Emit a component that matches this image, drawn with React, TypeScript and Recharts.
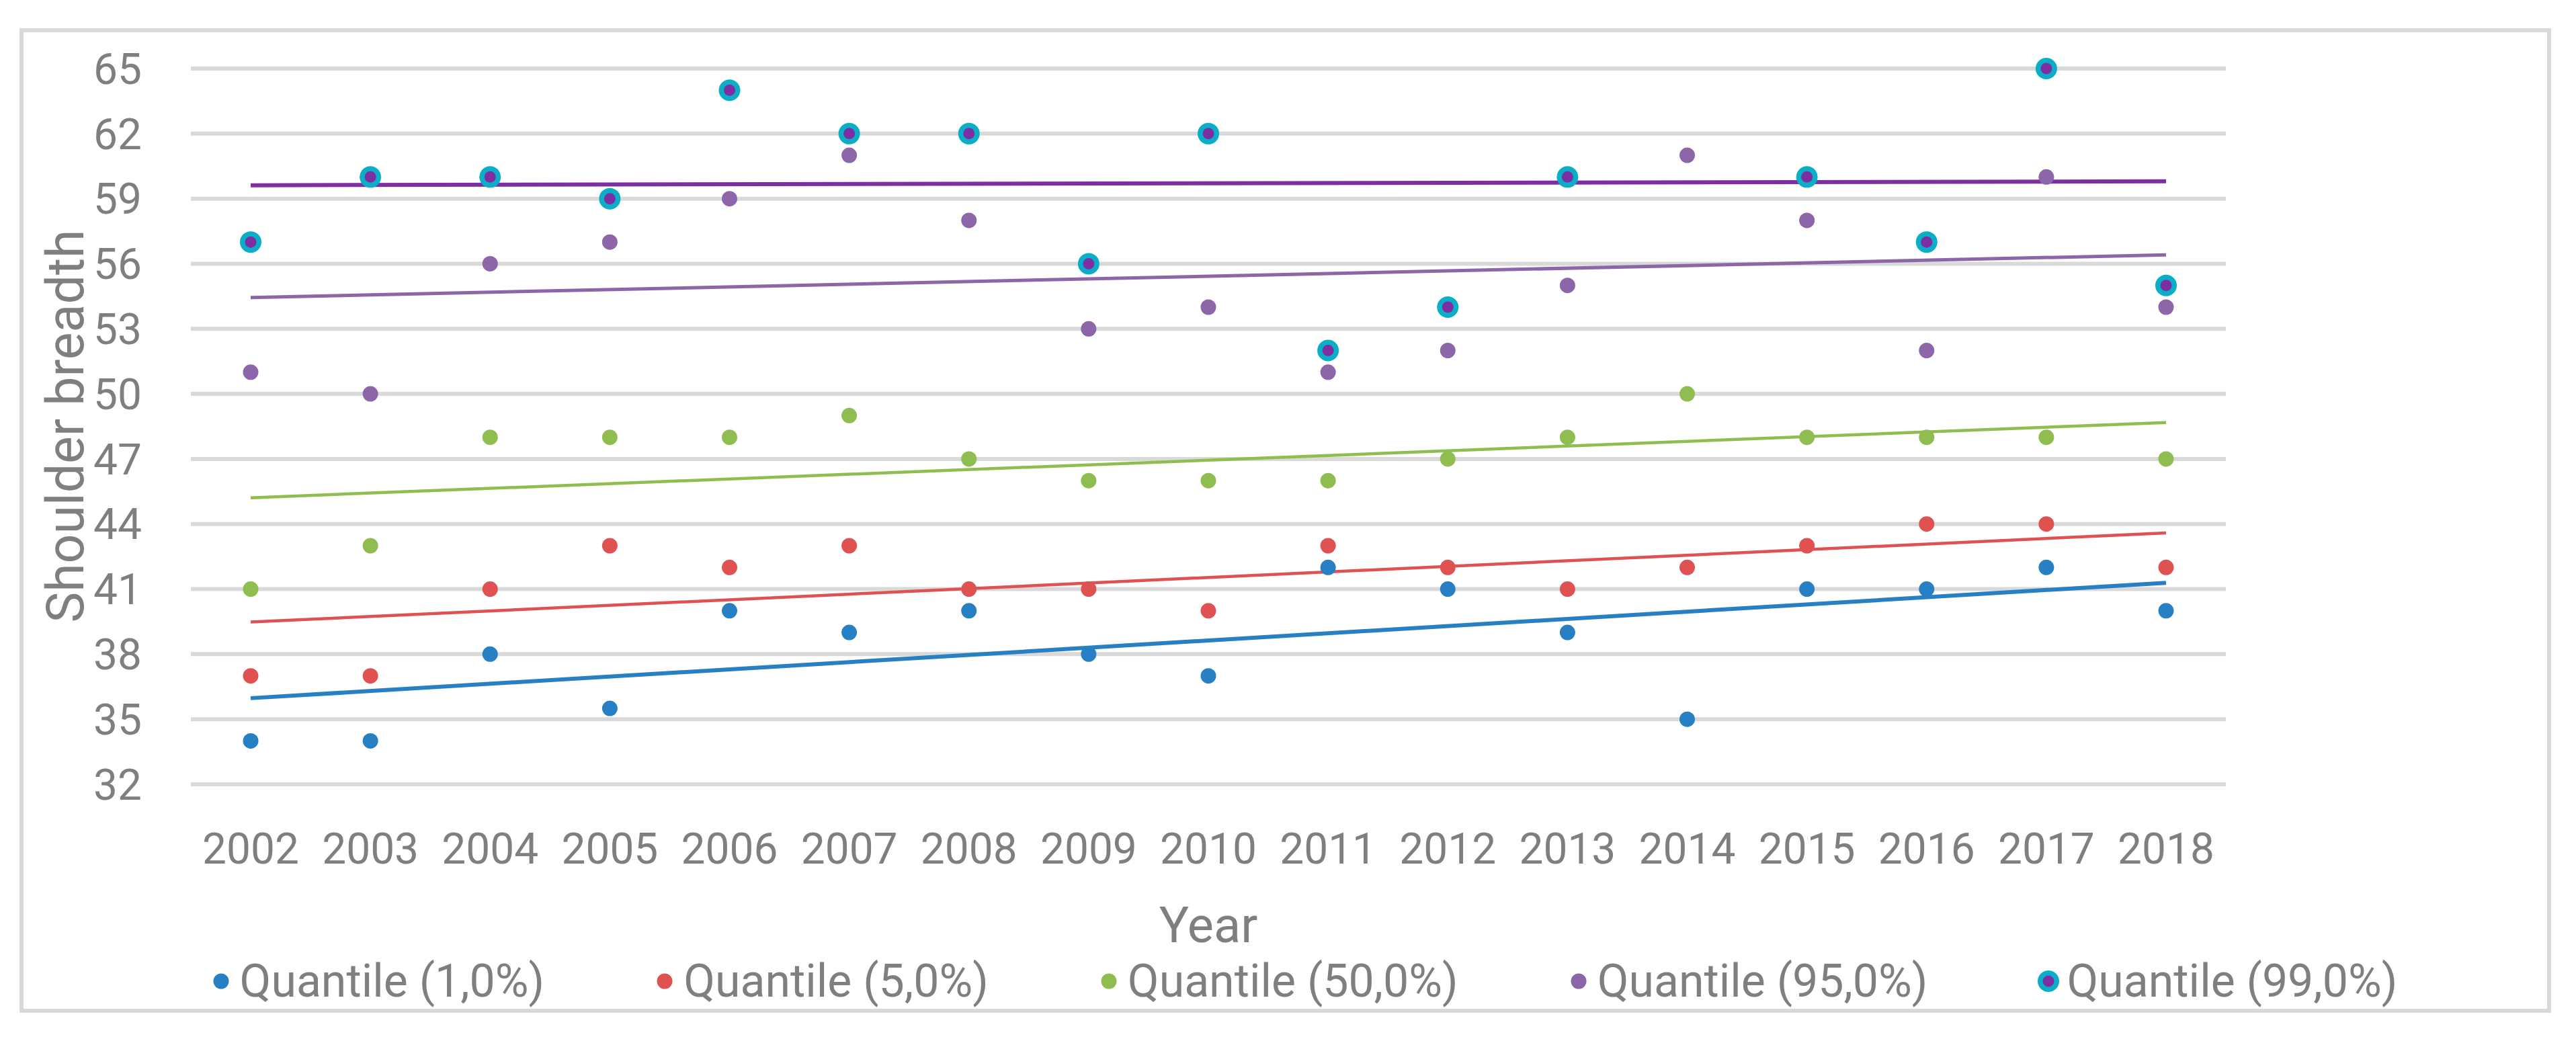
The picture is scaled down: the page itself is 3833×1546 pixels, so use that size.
import React from "react";
import {
  ComposedChart,
  Scatter,
  Line,
  XAxis,
  YAxis,
  CartesianGrid,
  Legend,
} from "recharts";

// ── Data ─────────────────────────────────────────────────────────────────────

const years = [
  "2002", "2003", "2004", "2005", "2006", "2007", "2008", "2009", "2010",
  "2011", "2012", "2013", "2014", "2015", "2016", "2017", "2018",
];

const q1 = [34, 34, 38, 35.5, 40, 39, 40, 38, 37, 42, 41, 39, 35, 41, 41, 42, 40];
const q5 = [37, 37, 41, 43, 42, 43, 41, 41, 40, 43, 42, 41, 42, 43, 44, 44, 42];
const q50 = [41, 43, 48, 48, 48, 49, 47, 46, 46, 46, 47, 48, 50, 48, 48, 48, 47];
const q95 = [51, 50, 56, 57, 59, 61, 58, 53, 54, 51, 52, 55, 61, 58, 52, 60, 54];
const q99 = [57, 60, 60, 59, 64, 62, 62, 56, 62, 52, 54, 60, null, 60, 57, 65, 55];

// linear trend lines: value at first and last year
const trend1 = [35.97, 41.29];
const trend5 = [39.48, 43.59];
const trend50 = [45.21, 48.68];
const trend95 = [54.44, 56.41];
const trend99 = [59.62, 59.8];

const yTicks = [32, 35, 38, 41, 44, 47, 50, 53, 56, 59, 62, 65];

const legendLabels = [
  "Quantile (1,0%)",
  "Quantile (5,0%)",
  "Quantile (50,0%)",
  "Quantile (95,0%)",
  "Quantile (99,0%)",
];

// ── Styling ──────────────────────────────────────────────────────────────────

const FONT = "Roboto, 'Noto Sans', sans-serif";
const TEXT = "#7f7f7f";
const GRID = "#d9d9d9";

const BLUE = "#2680c3";
const RED = "#e05252";
const GREEN = "#8fbd4f";
const PURPLE = "#8c66a8";
const DARK_PURPLE = "#7c2ea2";
const CYAN = "#0aafc7";

const last = years.length - 1;
const pick = (pair: number[], i: number) =>
  i === 0 ? pair[0] : i === last ? pair[1] : null;

const data = years.map((year, i) => ({
  year,
  q1: q1[i],
  q5: q5[i],
  q50: q50[i],
  q95: q95[i],
  q99: q99[i],
  t1: pick(trend1, i),
  t5: pick(trend5, i),
  t50: pick(trend50, i),
  t95: pick(trend95, i),
  t99: pick(trend99, i),
}));

// ── Marker shapes ────────────────────────────────────────────────────────────

const dot = (color: string) => (props: any) => {
  if (props.cx == null || props.cy == null) return <g />;
  return <circle cx={props.cx} cy={props.cy} r={11.5} fill={color} />;
};

const ringDot = (props: any) => {
  if (props.cx == null || props.cy == null) return <g />;
  return (
    <g>
      <circle cx={props.cx} cy={props.cy} r={16} fill={CYAN} />
      <circle cx={props.cx} cy={props.cy} r={8.5} fill={DARK_PURPLE} />
    </g>
  );
};

// ── Legend ───────────────────────────────────────────────────────────────────

function ChartLegend() {
  const colors = [BLUE, RED, GREEN, PURPLE];
  return (
    <div
      style={{
        display: "flex",
        justifyContent: "center",
        alignItems: "center",
        gap: 163,
        fontFamily: FONT,
        fontSize: 68,
        color: TEXT,
        lineHeight: "70px",
        height: 80,
        paddingLeft: 47,
      }}
    >
      {legendLabels.map((label, i) => (
        <div key={label} style={{ display: "flex", alignItems: "center" }}>
          <svg width={32} height={32} style={{ marginRight: 12 }}>
            {i < 4 ? (
              <circle cx={16} cy={16} r={11.5} fill={colors[i]} />
            ) : (
              <g>
                <circle cx={16} cy={16} r={16} fill={CYAN} />
                <circle cx={16} cy={16} r={8.5} fill={DARK_PURPLE} />
              </g>
            )}
          </svg>
          <span>{label}</span>
        </div>
      ))}
    </div>
  );
}

// ── Main ─────────────────────────────────────────────────────────────────────

export default function App() {
  const tick = { fontSize: 64, fill: TEXT, fontFamily: FONT };

  return (
    <div
      style={{
        position: "absolute",
        left: 0,
        top: 0,
        width: 3833,
        height: 1546,
        background: "#fff",
      }}
    >
      {/* chart-area border */}
      <div
        style={{
          position: "absolute",
          left: 29,
          top: 42,
          width: 3755,
          height: 1453,
          border: `6px solid ${GRID}`,
        }}
      />
      <div style={{ position: "absolute", left: 0, top: 0 }}>
        <ComposedChart
          width={3833}
          height={1546}
          data={data}
          margin={{ top: 102, right: 521, bottom: 149, left: 0 }}
        >
          <CartesianGrid
            vertical={false}
            stroke={GRID}
            strokeWidth={6}
            horizontalValues={yTicks}
          />
          <XAxis
            dataKey="year"
            axisLine={false}
            tickLine={false}
            tickSize={0}
            tickMargin={73}
            tick={tick}
            interval={0}
            height={150}
            padding={{ left: 89, right: 89 }}
            label={{
              content: () => (
                <text
                  x={1798}
                  y={1402}
                  textAnchor="middle"
                  fontSize={74}
                  fill={TEXT}
                  fontFamily={FONT}
                >
                  Year
                </text>
              ),
            }}
          />
          <YAxis
            type="number"
            domain={[32, 65]}
            ticks={yTicks}
            axisLine={false}
            tickLine={false}
            tickSize={0}
            tickMargin={73}
            tick={tick}
            width={284}
            label={{
              content: () => (
                <text
                  x={124}
                  y={634}
                  transform="rotate(-90 124 634)"
                  textAnchor="middle"
                  fontSize={77}
                  fill={TEXT}
                  fontFamily={FONT}
                >
                  Shoulder breadth
                </text>
              ),
            }}
          />
          <Legend
            content={<ChartLegend />}
            wrapperStyle={{ left: 0, top: 1420, width: 3833, height: 80 }}
          />

          <Line dataKey="t1" stroke={BLUE} strokeWidth={6} dot={false} connectNulls legendType="none" isAnimationActive={false} />
          <Line dataKey="t5" stroke={RED} strokeWidth={4.5} dot={false} connectNulls legendType="none" isAnimationActive={false} />
          <Line dataKey="t50" stroke={GREEN} strokeWidth={4.5} dot={false} connectNulls legendType="none" isAnimationActive={false} />
          <Line dataKey="t95" stroke={PURPLE} strokeWidth={5} dot={false} connectNulls legendType="none" isAnimationActive={false} />
          <Line dataKey="t99" stroke={DARK_PURPLE} strokeWidth={6} dot={false} connectNulls legendType="none" isAnimationActive={false} />

          <Scatter name="Quantile (1,0%)" dataKey="q1" fill={BLUE} shape={dot(BLUE)} isAnimationActive={false} />
          <Scatter name="Quantile (5,0%)" dataKey="q5" fill={RED} shape={dot(RED)} isAnimationActive={false} />
          <Scatter name="Quantile (50,0%)" dataKey="q50" fill={GREEN} shape={dot(GREEN)} isAnimationActive={false} />
          <Scatter name="Quantile (95,0%)" dataKey="q95" fill={PURPLE} shape={dot(PURPLE)} isAnimationActive={false} />
          <Scatter name="Quantile (99,0%)" dataKey="q99" fill={CYAN} shape={ringDot} isAnimationActive={false} />
        </ComposedChart>
      </div>
    </div>
  );
}
